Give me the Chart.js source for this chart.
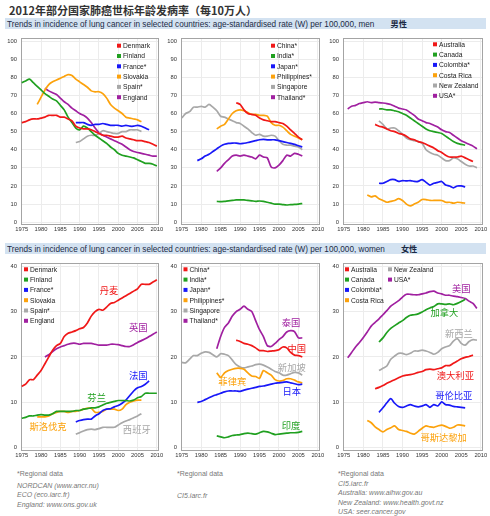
<!DOCTYPE html>
<html>
<head>
<meta charset="utf-8">
<script src="https://cdn.jsdelivr.net/npm/chart.js@4.4.1/dist/chart.umd.min.js"></script>
<style>
  body { margin: 0; background: #fff; }
  #page { position: relative; width: 490px; height: 516px; overflow: hidden; font-family: "Liberation Sans", Arial, sans-serif; }
  #page canvas { position: absolute; left: 0; top: 0; }
  .title { position: absolute; left: 9px; top: 2px; font: bold 11px "Noto Sans CJK SC", sans-serif; color: #333; white-space: nowrap; }
  .band { position: absolute; left: 5px; width: 481px; height: 11px; background: #d3e2f1; font-size: 8.2px; line-height: 11px; color: #1c2b45; white-space: nowrap; padding-left: 2px; box-sizing: border-box; }
  .band b { font-family: "Noto Sans CJK SC", sans-serif; margin-left: 16px; }
  .note { position: absolute; font-size: 7px; line-height: 9.5px; color: #777; white-space: nowrap; }
  .note i { display: block; }
</style>
</head>
<body>
<div id="page">
  <div class="title">2012年部分国家肺癌世标年龄发病率（每10万人）</div>
  <div class="band" style="top:18px">Trends in incidence of lung cancer in selected countries: age-standardised rate (W) per 100,000, men<b>男性</b></div>
  <div class="band" style="top:243px">Trends in incidence of lung cancer in selected countries: age-standardised rate (W) per 100,000, women<b>女性</b></div>
  <div class="note" style="left:17px;top:469px">*Regional data<i style="margin-top:2px">NORDCAN (www.ancr.nu)</i><i>ECO (eco.iarc.fr)</i><i>England: www.ons.gov.uk</i></div>
  <div class="note" style="left:177px;top:469px">*Regional data<i style="margin-top:12px">CI5.iarc.fr</i></div>
  <div class="note" style="left:338px;top:469px">*Regional data<i>CI5.iarc.fr</i><i>Australia: www.aihw.gov.au</i><i>New Zealand: www.health.govt.nz</i><i>USA: seer.cancer.gov</i></div>
  <canvas id="c0" width="490" height="516"></canvas>
  <canvas id="c1" width="490" height="516"></canvas>
  <canvas id="c2" width="490" height="516"></canvas>
  <canvas id="c3" width="490" height="516"></canvas>
  <canvas id="c4" width="490" height="516"></canvas>
  <canvas id="c5" width="490" height="516"></canvas>
</div>
<script>
// 横軸・縦軸の目盛り
const xTicks = [1975, 1980, 1985, 1990, 1995, 2000, 2005, 2010];
const yTicksMen = [0, 10, 20, 30, 40, 50, 60, 70, 80, 90, 100];
const yTicksWomen = [0, 10, 20, 30, 40];

// 系列の色 (赤, 緑, 青, 橙, 灰, 紫)
const colors = ['#f01818', '#20a020', '#1818f8', '#fca20c', '#a8a8a8', '#a020a0'];

// 国名
const countriesA = ['Denmark', 'Finland', 'France*', 'Slovakia', 'Spain*', 'England'];
const countriesB = ['China*', 'India*', 'Japan*', 'Philippines*', 'Singapore', 'Thailand*'];
const countriesC = ['Australia', 'Canada', 'Colombia*', 'Costa Rica', 'New Zealand', 'USA*'];

// 各系列の開始年
const startA = [1975, 1975, 1989, 1979, 1989, 1981];
const startB = [1989, 1984, 1979, 1984, 1975, 1984];
const startC = [1983, 1984, 1984, 1981, 1984, 1976];

// 男性
const menA = [
  [55, 55.5, 56.5, 57, 57, 57.5, 58, 59, 59, 59, 58, 58, 57, 56, 53, 52, 51.5, 51.5, 51, 50, 49, 48, 48, 47.5, 47, 47, 47.5, 46.5, 46, 45.5, 45, 45, 44.5, 44, 43, 42],
  [77, 78, 79, 77, 75, 73, 71, 69.5, 68, 67, 64.5, 62, 58, 55, 52, 51, 53, 52, 50, 48, 46.5, 45, 43.5, 41.5, 40, 38, 37, 36.5, 36, 35.5, 34.5, 33.5, 32.5, 32.5, 32, 31],
  [55, 55, 55, 54, 53.5, 54, 54, 54.5, 54, 53.5, 53.5, 53.5, 53, 53.5, 53, 53, 53.5, 53, 52, 51],
  [65, 69, 73, 76, 77.5, 78.5, 79.5, 80.5, 81.5, 81, 79, 77.5, 76, 74.5, 72.5, 72, 72, 71, 68.5, 65, 63, 61.5, 60, 58, 57.5, 57, 56.5, 55.5],
  [44, 44.5, 46, 47.5, 48, 48, 49, 50.5, 50, 49.5, 49, 49, 50, 50, 51, 51, 51, 50],
  [74, 72.5, 71.5, 70.5, 68.5, 66.5, 65, 63, 61.5, 60, 59, 57.5, 55, 52, 49.5, 48, 47, 46, 45, 44, 43, 41.5, 40, 39, 38.5, 38, 37.5, 37, 36.5, 36.5]
];
const menB = [
  [66, 65, 62, 60, 59.5, 59, 57.5, 56.5, 56, 55.5, 55.5, 55, 54.5, 53, 51, 49, 47, 45.5],
  [11.5, 11.3, 11.5, 11.8, 12, 12.3, 12.3, 12.3, 12, 11.8, 11.5, 11.7, 11.5, 11, 10.5, 10, 10, 9.7, 9.5, 9.7, 9.8, 10, 10.3],
  [34, 35, 36.5, 37.5, 39, 40.5, 42, 43, 43.5, 43.7, 43.7, 43.3, 43.6, 44, 44.5, 45, 45.5, 45.7, 45.5, 45.5, 45.5, 45, 44.5, 44, 43.5, 43, 42.2, 41.5],
  [51.5, 53, 54, 57, 60, 61.5, 62, 61.5, 60.5, 59.5, 59.5, 59, 59, 58.5, 55, 53.5, 53.5, 52.5, 50.5, 48.5, 47.5, 46.5, 45.5],
  [57.5, 60, 61, 63.5, 63.5, 64, 63.5, 65, 63.5, 61.5, 58.5, 58, 57, 56, 55, 54.5, 53, 51.5, 49.5, 48, 48.5, 47.5, 47.5, 48, 47.5, 45, 43, 42.5, 42.5, 42, 41.5, 40],
  [28, 30, 32.5, 34.5, 36.5, 37, 36.5, 37, 36.5, 36, 35, 37, 36, 35.5, 30.5, 30, 31.5, 34, 37, 36.5, 38, 37.5, 36.5]
];
const menC = [
  [54, 53, 52.5, 51.5, 50.5, 50, 49, 48.5, 47.5, 46, 45.5, 44.5, 44, 43, 42, 41, 39.5, 38.5, 37, 36, 36, 36, 36.5, 35.5, 34.5, 33.5],
  [62.5, 62.5, 62, 62, 61.5, 61, 60, 59, 57.5, 56, 54.5, 53, 51.5, 50.5, 50, 49.5, 49, 47.5, 46, 44.5, 43.5, 43, 42.5],
  [21.5, 21.5, 22.5, 23.5, 23.5, 22.5, 23, 22.8, 23, 22.5, 22.5, 23.5, 22, 20.5, 21.5, 22, 22.5, 20.5, 20, 19, 20, 20, 19.5],
  [15, 14, 14.5, 13, 12, 11, 11.5, 12, 13, 12, 10, 9, 10, 11, 12.5, 12.5, 12, 12, 12, 12, 11, 11, 10.5, 11, 10.8, 10.5],
  [56, 54, 51.5, 52, 52, 50.5, 48.5, 46.5, 45.5, 45, 44.5, 43.5, 40, 38.5, 37.5, 37, 35.5, 34, 34, 35.5, 35, 33.5, 32, 31, 31, 30],
  [62.5, 64, 64.5, 65.5, 66, 66.5, 66, 66.3, 66, 65.8, 65.5, 65, 64, 63, 62.5, 62, 60.5, 59, 57, 56, 55, 54.5, 53.5, 52.5, 51, 50, 49.5, 48, 46.5, 45, 44, 43, 42, 40.5]
];

// 女性
const womenA = [
  [13.5, 14, 15, 15, 16, 17, 18.5, 20, 21.5, 22.5, 23, 24.5, 25.2, 25.5, 25.8, 26.2, 26.5, 27.5, 29, 30, 30.5, 30.3, 31, 31.8, 32, 32.5, 33, 33.5, 34, 34.5, 35, 36, 36, 36, 36.5, 37],
  [6.5, 6.7, 7, 7, 7.2, 7.3, 7.2, 7.2, 7.5, 8, 8, 8, 8, 8, 8.2, 8.2, 8.5, 8.6, 8.8, 8.8, 9, 9.4, 9.8, 10, 10.2, 10.4, 10.4, 10.4, 10.3, 10.5, 11, 11.3, 12, 12, 12, 12],
  [5.7, 6, 6.2, 6.3, 6.3, 7, 7.5, 8.2, 8.5, 8.6, 9, 9.3, 9.8, 10.5, 11.5, 12.5, 13.2, 13.5, 14, 14.7],
  [6.8, 6.8, 6.8, 7, 7.5, 7.8, 8, 8, 7.8, 8, 8, 8.2, 8.5, 8.7, 8.7, 7.8, 7.8, 8, 8.5, 8.5, 8.5, 8.2, 8.5, 9.5, 10, 10.3, 10.5, 10.5],
  [3, 3.3, 3.7, 4, 4.1, 4, 4.2, 4.5, 4.5, 4.5, 4.5, 5, 5.5, 5.9, 6.2, 6.6, 7, 7.5],
  [20, 20.5, 21.2, 21.8, 22.2, 22.5, 22.8, 23, 23, 22.8, 23, 23, 23, 22.8, 22.6, 22.6, 22.6, 22.8, 22.8, 22.7, 22.5, 22.3, 22.3, 22.7, 23.2, 23.6, 24, 24.5, 25, 25.5]
];
const womenB = [
  [23.7, 23.4, 23, 22.8, 22.5, 22, 21.4, 21.4, 21.2, 21.3, 21.4, 21.6, 22.2, 22, 21, 20.4, 20.3, 20],
  [2.6, 2.4, 2.2, 2.4, 2.7, 2.8, 2.9, 3.1, 3.2, 3.1, 3, 3.3, 3.6, 3.5, 3.2, 2.9, 3, 3.1, 3.2, 3.3, 3.3, 3.4, 3.6],
  [10, 10.2, 10.6, 11, 11.4, 11.7, 12, 12.3, 12.5, 12.5, 12.5, 12.4, 12.7, 12.9, 13.1, 13.3, 13.5, 13.6, 13.8, 14, 14.2, 14.3, 14.4, 14.5, 14.3, 14.1, 13.9, 14],
  [16.5, 15.5, 16.5, 17, 17.3, 17.5, 17.5, 17.3, 16.5, 15.8, 15.7, 15.3, 17, 16.5, 16, 15, 14.7, 14.8, 15.2, 15.2, 14.9, 14.5, 14.3],
  [18.8, 18.7, 19.5, 20.3, 20.3, 20.8, 21.1, 21, 20.5, 20, 20.7, 20.6, 20.3, 19.3, 18.3, 17.8, 17.6, 17.8, 18, 18.3, 18.4, 18.2, 17.8, 17.3, 16.8, 16.5, 16, 16, 16.3, 16.6, 16.5, 16],
  [21.8, 24.5, 26.5, 27.5, 29, 30, 30.5, 31.2, 30.5, 30, 28, 26, 24.5, 22.5, 22.3, 23, 23.8, 24.5, 25.5, 25.8, 25.6, 24.2, 24.2]
];
const womenC = [
  [13, 13.3, 13.7, 14.2, 14.6, 15, 15.4, 15.8, 16, 16.1, 16.3, 16.6, 16.8, 17.2, 17.3, 17.2, 17.4, 17.6, 18.1, 18.1, 18.6, 19.1, 19.6, 19.9, 20.1, 20.4],
  [23.3, 24.2, 25.4, 26.3, 26.9, 27.5, 28, 28.7, 29.2, 29.3, 29.5, 29.9, 30.4, 30.8, 31.1, 31.7, 31.7, 31.6, 31.7, 31.5, 31.8, 32.2, 32.7],
  [7.8, 8.8, 9.9, 10.8, 9.8, 9.1, 8.9, 9.2, 9.5, 9.2, 9, 9.2, 9.5, 8.9, 9.5, 9.2, 10.1, 9.5, 9.4, 9.1, 9, 8.9, 8.8],
  [6, 5.5, 4.6, 4, 3.5, 4, 4.4, 4.8, 4, 3.8, 3.6, 3.2, 3, 3.6, 4.3, 4.8, 4.6, 4.5, 4.8, 5, 4.7, 4.3, 4.5, 5, 5, 4.8],
  [17, 17.5, 18, 19.5, 20.2, 20.8, 20.8, 20.5, 20.8, 21.3, 21.3, 21.5, 21.3, 21, 20.6, 21, 21.8, 22.2, 22.5, 23.5, 24, 23, 22.6, 23.4, 23.8, 23.7],
  [19.8, 21, 22.2, 23.2, 24.3, 25.5, 26.8, 27.6, 28.4, 29.3, 30.2, 31.2, 31.8, 32.4, 33.2, 33.8, 33.8, 33.7, 33.7, 33.9, 34.1, 34.4, 34.5, 34.1, 33.9, 33.6, 33.6, 33.4, 33.3, 33.1, 32.9, 32.3, 31.8, 30.7]
];

// 女性グラフの中国語ラベル (系列順)
const namesA = ['丹麦', '芬兰', '法国', '斯洛伐克', '西班牙', '英国'];
const namesB = ['中国', '印度', '日本', '菲律宾', '新加坡', '泰国'];
const namesC = ['澳大利亚', '加拿大', '哥伦比亚', '哥斯达黎加', '新西兰', '美国'];
// ラベルの位置 [年, 値]
const namePosA = [[1997.6, 34.7], [1994.4, 11.1], [2005.2, 16.0], [1981.8, 4.7], [2004.8, 4.0], [2005.2, 26.4]];
const namePosB = [[2004.6, 21.9], [2003.1, 4.9], [2003.3, 12.4], [1988.0, 14.6], [2003.3, 17.6], [2003.1, 27.6]];
const namePosC = [[2003.5, 16.0], [2000.7, 29.8], [2003.1, 11.6], [2000.5, 2.3], [2004.4, 25.2], [2005.0, 35.2]];

const tickFont = { family: 'Liberation Sans', size: 5.8 };

// 枠線
const boxPlugin = {
  id: 'box',
  beforeDatasetsDraw(chart) {
    const a = chart.chartArea;
    const ctx = chart.ctx;
    ctx.save();
    ctx.strokeStyle = '#a4a4a4';
    ctx.lineWidth = 1;
    ctx.strokeRect(Math.round(a.left) + 0.5, Math.round(a.top) + 0.5, Math.round(a.right - a.left), Math.round(a.bottom - a.top));
    ctx.restore();
  }
};

// グラフ内の凡例
const legendPlugin = {
  id: 'innerLegend',
  afterDatasetsDraw(chart, args, opts) {
    const a = chart.chartArea;
    const ctx = chart.ctx;
    ctx.save();
    ctx.font = '6.7px "Liberation Sans"';
    ctx.textBaseline = 'middle';
    chart.data.datasets.forEach(function(ds, i) {
      const col = Math.floor(i / opts.rows);
      const row = i % opts.rows;
      const x = a.left + opts.x + col * opts.colW;
      const y = a.top + opts.y + row * 10.3;
      ctx.fillStyle = ds.borderColor;
      ctx.fillRect(x, y - 2, 4, 4);
      ctx.fillStyle = '#222';
      ctx.fillText(ds.label, x + 6, y + 0.5);
    });
    ctx.restore();
  }
};

// 中国語の注記
const namePlugin = {
  id: 'names',
  afterDatasetsDraw(chart, args, opts) {
    if (!opts.names) return;
    const ctx = chart.ctx;
    const xs = chart.scales.x, ys = chart.scales.y;
    ctx.save();
    ctx.font = '9.3px "Noto Sans CJK SC"';
    ctx.textAlign = 'center';
    ctx.textBaseline = 'middle';
    opts.names.forEach(function(n, i) {
      ctx.fillStyle = colors[i];
      ctx.fillText(n, xs.getPixelForValue(opts.pos[i][0]), ys.getPixelForValue(opts.pos[i][1]));
    });
    ctx.restore();
  }
};

function makeChart(id, box, countries, starts, values, yTicks, yMin, yMax, legend, names, pos) {
  const datasets = countries.map(function(c, i) {
    return {
      label: c,
      data: values[i].map(function(v, k) { return { x: starts[i] + k, y: v }; }),
      borderColor: colors[i],
      backgroundColor: colors[i],
      borderWidth: 1.7,
      pointRadius: 0,
      tension: 0.25,
      fill: false
    };
  });
  return new Chart(document.getElementById(id), {
    type: 'line',
    data: { datasets: datasets },
    options: {
      responsive: false,
      animation: false,
      layout: { padding: { left: box[0] - 21, top: box[1], right: 490 - box[2], bottom: 516 - box[3] - 14 } },
      scales: {
        x: {
          type: 'linear', min: 1974.8, max: 2010.3,
          afterBuildTicks: function(s) { s.ticks = xTicks.map(function(v) { return { value: v }; }); },
          afterFit: function(s) { s.height = 14; },
          ticks: { font: tickFont, color: '#333', padding: 2, maxRotation: 0, autoSkip: false, callback: function(v) { return String(v); } },
          grid: { color: '#ececec', drawTicks: false },
          border: { display: false }
        },
        y: {
          min: yMin, max: yMax,
          afterBuildTicks: function(s) { s.ticks = yTicks.map(function(v) { return { value: v }; }); },
          afterFit: function(s) { s.width = 21; },
          ticks: { font: tickFont, color: '#333', padding: 4 },
          grid: { color: '#ececec', drawTicks: false },
          border: { display: false }
        }
      },
      plugins: {
        legend: { display: false },
        tooltip: { enabled: false },
        innerLegend: legend,
        names: { names: names, pos: pos }
      }
    },
    plugins: [boxPlugin, legendPlugin, namePlugin]
  });
}

const legTopA = { x: 96, y: 7.7, rows: 6, colW: 0 };
const legTopB = { x: 90, y: 7.7, rows: 6, colW: 0 };
const legTopC = { x: 90, y: 6.3, rows: 6, colW: 0 };
const legBotA = { x: 3, y: 6.3, rows: 6, colW: 0 };
const legBotB = { x: 2.5, y: 6.3, rows: 6, colW: 0 };
const legBotC = { x: 2, y: 6.3, rows: 4, colW: 43 };

makeChart('c0', [21, 38, 158, 224], countriesA, startA, menA, yTicksMen, -1, 101.7, legTopA);
makeChart('c1', [181, 38, 319, 224], countriesB, startB, menB, yTicksMen, -1, 101.7, legTopB);
makeChart('c2', [343, 38, 482, 224], countriesC, startC, menC, yTicksMen, -1, 101.7, legTopC);
makeChart('c3', [21, 263, 158, 450], countriesA, startA, womenA, yTicksWomen, -0.5, 40.7, legBotA, namesA, namePosA);
makeChart('c4', [181, 263, 319, 450], countriesB, startB, womenB, yTicksWomen, -0.5, 40.7, legBotB, namesB, namePosB);
makeChart('c5', [343, 263, 482, 450], countriesC, startC, womenC, yTicksWomen, -0.5, 40.7, legBotC, namesC, namePosC);
</script>
</body>
</html>
